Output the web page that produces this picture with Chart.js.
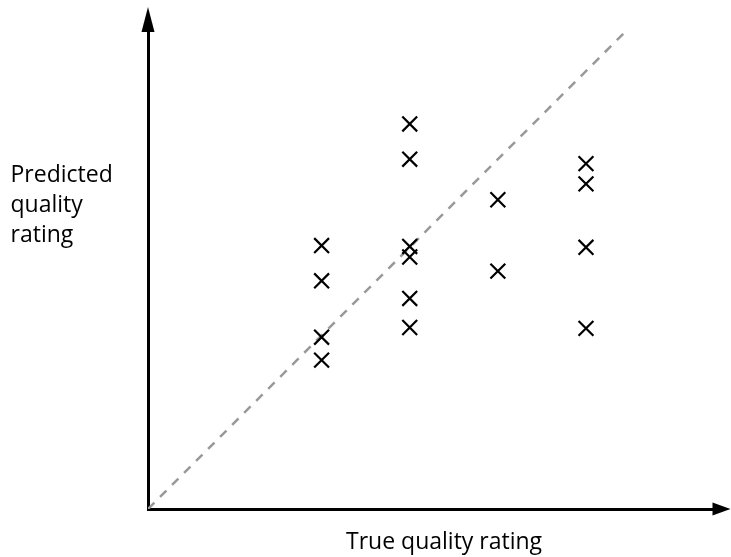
<!DOCTYPE html>
<html>
<head>
<meta charset="utf-8">
<script src="https://cdn.jsdelivr.net/npm/chart.js@4.4.1/dist/chart.umd.min.js"></script>
<style>
  html, body { margin: 0; padding: 0; background: #fff; }
  #wrap { position: relative; width: 731px; height: 557px; }
  canvas { display: block; }
</style>
</head>
<body>
<div id="wrap"><canvas id="c" width="731" height="557"></canvas></div>
<script>
// ---- data ----
const trueRatings      = [2, 2, 2, 2, 3, 3, 3, 3, 3, 3, 4, 4, 5, 5, 5, 5];
const predictedRatings = [3.02, 2.62, 1.98, 1.72, 4.40, 4.00, 3.01, 2.89, 2.42, 2.09, 3.54, 2.73, 3.95, 3.72, 3.00, 2.08];
const identityLine     = [0.03, 5.48];
const xLabel = 'True quality rating';
const yLabelLines = ['Predicted', 'quality', 'rating'];
const axisMin = 0.03, xAxisMax = 6.43, yAxisMax = 5.512;

const points = trueRatings.map((x, i) => ({ x: x, y: predictedRatings[i] }));
const diag = identityLine.map(v => ({ x: v, y: v }));

const FONT = '"Open Sans", "DejaVu Sans", sans-serif';

const arrowPlugin = {
  id: 'arrows',
  afterDraw(chart) {
    const ctx = chart.ctx, a = chart.chartArea;
    ctx.save();
    ctx.fillStyle = '#000';
    // y arrow
    ctx.beginPath();
    ctx.moveTo(a.left, 7);
    ctx.lineTo(a.left - 6.5, 32);
    ctx.lineTo(a.left + 6.5, 32);
    ctx.closePath();
    ctx.fill();
    // x arrow
    ctx.beginPath();
    ctx.moveTo(730.5, a.bottom);
    ctx.lineTo(712.5, a.bottom - 6.5);
    ctx.lineTo(712.5, a.bottom + 6.5);
    ctx.closePath();
    ctx.fill();
    // axis labels
    ctx.font = '23px ' + FONT;
    ctx.textBaseline = 'alphabetic';
    ctx.textAlign = 'left';
    ctx.fillStyle = '#000';
    yLabelLines.forEach((t, i) => ctx.fillText(t, 10.5, 182 + i * 30));
    ctx.fillText(xLabel, 346, 549);
    ctx.restore();
  }
};

new Chart(document.getElementById('c'), {
  type: 'scatter',
  data: {
    datasets: [
      {
        data: points,
        pointStyle: 'crossRot',
        pointRadius: 10.5,
        pointHoverRadius: 10.5,
        pointBorderWidth: 2.2,
        borderColor: '#000',
        backgroundColor: '#000',
        showLine: false
      },
      {
        data: diag,
        showLine: true,
        borderColor: '#999999',
        borderWidth: 2.5,
        borderDash: [9, 8],
        pointRadius: 0,
        fill: false
      }
    ]
  },
  options: {
    responsive: false,
    devicePixelRatio: 1,
    animation: false,
    events: [],
    layout: { padding: { left: 148, top: 26, right: 19, bottom: 48 } },
    plugins: { legend: { display: false }, tooltip: { enabled: false } },
    scales: {
      x: {
        type: 'linear',
        min: axisMin, max: xAxisMax,
        grid: { display: false, drawTicks: false },
        ticks: { display: false },
        border: { display: true, color: '#000', width: 3 },
        title: { display: false }
      },
      y: {
        type: 'linear',
        min: axisMin, max: yAxisMax,
        grid: { display: false, drawTicks: false },
        ticks: { display: false },
        border: { display: true, color: '#000', width: 3 }
      }
    }
  },
  plugins: [arrowPlugin]
});
</script>
</body>
</html>
